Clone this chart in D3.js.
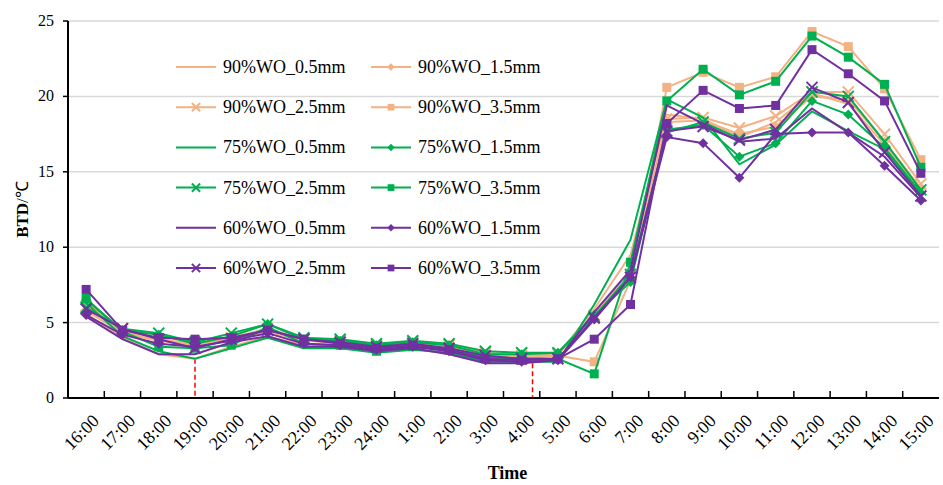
<!DOCTYPE html>
<html>
<head>
<meta charset="utf-8">
<script src="https://cdn.jsdelivr.net/npm/d3@7"></script>
<style>
  body { margin: 0; background: #fff; }
  text { font-family: "Liberation Serif", "Times New Roman", serif; }
</style>
</head>
<body>
<div id="chart"></div>
<script>
// categories along the x axis
const times = ["16:00","17:00","18:00","19:00","20:00","21:00","22:00","23:00","24:00","1:00","2:00","3:00",
               "4:00","5:00","6:00","7:00","8:00","9:00","10:00","11:00","12:00","13:00","14:00","15:00"];

// series values (BTD, °C)
const wo90_05 = [5.6,4.0,2.9,2.6,3.4,4.1,3.5,3.4,3.2,3.4,3.2,2.6,2.5,2.9,5.9,9.5,18.8,18.5,17.3,18.3,20.2,19.5,16.8,13.6];
const wo90_15 = [5.8,4.3,3.8,3.5,3.8,4.4,3.8,3.7,3.4,3.6,3.4,2.9,2.7,2.9,5.6,8.4,18.3,18.4,17.5,18.0,20.0,19.8,17.0,13.9];
const wo90_25 = [6.1,4.4,3.9,3.6,4.0,4.6,3.9,3.8,3.5,3.7,3.5,3.0,2.8,2.9,5.5,8.1,18.5,18.6,17.9,18.7,20.3,20.3,17.5,14.2];
const wo90_35 = [6.4,4.4,3.8,3.6,3.9,4.6,3.8,3.7,3.4,3.6,3.5,2.8,2.7,2.8,2.4,7.8,20.6,21.6,20.6,21.3,24.3,23.3,20.5,15.8];
const wo75_05 = [6.3,4.1,3.1,2.6,3.3,4.0,3.3,3.3,3.0,3.2,3.0,2.4,2.4,2.4,6.2,10.5,19.8,18.6,15.5,16.8,19.0,17.7,16.5,13.5];
const wo75_15 = [6.5,4.5,4.2,3.6,4.1,4.9,3.9,3.8,3.5,3.7,3.5,2.9,2.9,3.0,5.5,7.7,17.8,18.1,16.0,16.9,19.7,18.8,16.6,13.6];
const wo75_25 = [6.0,4.6,4.3,3.7,4.3,4.9,4.0,3.9,3.6,3.8,3.6,3.1,3.0,3.0,5.4,8.2,17.6,18.3,17.2,17.6,20.3,20.0,17.0,13.8];
const wo75_35 = [6.6,4.4,3.4,3.3,3.5,4.7,3.6,3.5,3.1,3.4,3.2,2.7,2.6,2.6,1.6,9.0,19.7,21.8,20.1,21.0,24.0,22.6,20.8,15.3];
const wo60_05 = [5.4,3.9,2.9,2.9,3.7,4.1,3.4,3.4,3.1,3.3,2.9,2.3,2.3,2.5,5.7,8.5,19.4,18.2,17.0,17.2,19.2,17.6,16.0,13.3];
const wo60_15 = [5.5,4.2,3.6,3.4,3.8,4.3,3.6,3.5,3.2,3.4,3.1,2.5,2.4,2.5,5.2,8.0,17.3,16.9,14.6,17.5,17.6,17.6,15.4,13.1];
const wo60_25 = [5.9,4.6,3.9,3.3,3.9,4.5,3.9,3.7,3.4,3.6,3.3,2.8,2.6,2.6,5.3,8.0,17.7,18.0,17.1,17.8,20.6,19.6,16.3,13.4];
const wo60_35 = [7.2,4.5,4.0,3.9,4.0,4.5,3.9,3.6,3.3,3.5,3.2,2.6,2.5,2.6,3.9,6.2,18.2,20.4,19.2,19.4,23.1,21.5,19.7,14.9];

const seriesNames = ["90%WO_0.5mm","90%WO_1.5mm","90%WO_2.5mm","90%WO_3.5mm",
                     "75%WO_0.5mm","75%WO_1.5mm","75%WO_2.5mm","75%WO_3.5mm",
                     "60%WO_0.5mm","60%WO_1.5mm","60%WO_2.5mm","60%WO_3.5mm"];
const seriesValues = [wo90_05, wo90_15, wo90_25, wo90_35, wo75_05, wo75_15, wo75_25, wo75_35,
                      wo60_05, wo60_15, wo60_25, wo60_35];
const yTicks = [0, 5, 10, 15, 20, 25];

// red dashed markers: position in category units (0 = 16:00 point) and top value
const markIdx = [3, 12.3];
const markVal = [2.6, 2.3];

const width = 943, height = 485;
const margin = ({top: 21, right: 4, bottom: 87, left: 68});

const colors = ["#F4B183", "#00B050", "#7030A0"];
const markerKinds = ["none", "diamond", "x", "square"];

const series = seriesNames.map((name, i) => ({
  name: name,
  color: colors[Math.floor(i / 4)],
  marker: markerKinds[i % 4],
  values: seriesValues[i]
}));

const svg = d3.create('svg')
  .attr('width', width)
  .attr('height', height);

const xScale = d3.scaleBand()
  .domain(times)
  .range([margin.left, width - margin.right])
  .padding(0);

const yScale = d3.scaleLinear()
  .domain([0, 25])
  .range([height - margin.bottom, margin.top]);

const xPos = d => xScale(d) + xScale.bandwidth() / 2;
const idxScale = d3.scaleLinear()
  .domain([0, times.length])
  .range([margin.left, width - margin.right]);

// gridlines
svg.append('g')
  .selectAll('line')
  .data(yTicks.filter(d => d > 0))
  .join('line')
  .attr('x1', margin.left)
  .attr('x2', width - margin.right)
  .attr('y1', d => yScale(d))
  .attr('y2', d => yScale(d))
  .attr('stroke', '#d9d9d9')
  .attr('stroke-width', 1.5);

// legend
const legend = svg.append('g');
series.forEach(function(s, i) {
  const col = i % 2, row = Math.floor(i / 2);
  const lx = 176 + col * 195, ly = 67 + row * 40.2;
  const g = legend.append('g').attr('transform', `translate(${lx}, ${ly})`);
  g.append('line')
    .attr('x1', 0).attr('x2', 40)
    .attr('stroke', s.color).attr('stroke-width', 2);
  drawMarker(g, s, 20, 0, 0.75);
  g.append('text')
    .attr('x', 47)
    .attr('y', 6)
    .attr('font-size', '18px')
    .attr('fill', '#000')
    .text(s.name);
});

function drawMarker(g, s, x, y, k) {
  if (s.marker === 'square') {
    g.append('rect')
      .attr('x', x - 4.5 * k).attr('y', y - 4.5 * k)
      .attr('width', 9 * k).attr('height', 9 * k)
      .attr('fill', s.color);
  } else if (s.marker === 'diamond') {
    const r = 5 * k;
    g.append('path')
      .attr('d', `M${x},${y - r}L${x + r},${y}L${x},${y + r}L${x - r},${y}Z`)
      .attr('fill', s.color);
  } else if (s.marker === 'x') {
    const r = 5.5 * k;
    g.append('path')
      .attr('d', `M${x - r},${y - r}L${x + r},${y + r}M${x - r},${y + r}L${x + r},${y - r}`)
      .attr('stroke', s.color)
      .attr('stroke-width', 2)
      .attr('fill', 'none');
  }
}

// red dashed markers
svg.append('g')
  .selectAll('line')
  .data(markIdx)
  .join('line')
  .attr('x1', d => idxScale(d + 0.5))
  .attr('x2', d => idxScale(d + 0.5))
  .attr('y1', (d, i) => yScale(markVal[i]))
  .attr('y2', yScale(0))
  .attr('stroke', '#ff0000')
  .attr('stroke-width', 1.5)
  .attr('stroke-dasharray', '5,3');

// lines and markers
const line = d3.line()
  .x((d, i) => xPos(times[i]))
  .y(d => yScale(d));

const plot = svg.append('g');
series.forEach(function(s) {
  const g = plot.append('g');
  g.append('path')
    .datum(s.values)
    .attr('d', line)
    .attr('fill', 'none')
    .attr('stroke', s.color)
    .attr('stroke-width', 2);
  s.values.forEach(function(v, i) {
    drawMarker(g, s, xPos(times[i]), yScale(v), 1);
  });
});

// x axis
const xAxis = svg.append('g')
  .attr('transform', `translate(0, ${height - margin.bottom})`);
xAxis.append('line')
  .attr('x1', margin.left).attr('x2', width - margin.right)
  .attr('stroke', '#000').attr('stroke-width', 2);
xAxis.selectAll('.tick')
  .data(times.slice(1))
  .join('line')
  .attr('x1', d => xScale(d)).attr('x2', d => xScale(d))
  .attr('y1', 0).attr('y2', -7)
  .attr('stroke', '#000').attr('stroke-width', 1.5);
xAxis.selectAll('text.lbl')
  .data(times)
  .join('text')
  .attr('class', 'lbl')
  .attr('transform', d => `translate(${xPos(d) + 14}, 24) rotate(-45)`)
  .attr('text-anchor', 'end')
  .attr('font-size', '18px')
  .attr('fill', '#000')
  .text(d => d);
svg.append('text')
  .attr('x', (margin.left + width - margin.right) / 2 + 4)
  .attr('y', 479)
  .attr('text-anchor', 'middle')
  .attr('font-size', '18px')
  .attr('font-weight', 'bold')
  .text('Time');

// y axis
const yAxis = svg.append('g');
yAxis.append('line')
  .attr('x1', margin.left).attr('x2', margin.left)
  .attr('y1', yScale(25)).attr('y2', yScale(0))
  .attr('stroke', '#000').attr('stroke-width', 2);
yAxis.selectAll('line.tk')
  .data(yTicks)
  .join('line')
  .attr('class', 'tk')
  .attr('x1', margin.left - 5).attr('x2', margin.left)
  .attr('y1', d => yScale(d)).attr('y2', d => yScale(d))
  .attr('stroke', '#000').attr('stroke-width', 1.5);
yAxis.selectAll('text')
  .data(yTicks)
  .join('text')
  .attr('x', 54)
  .attr('y', d => yScale(d) + 5)
  .attr('text-anchor', 'end')
  .attr('font-size', '16px')
  .attr('fill', '#000')
  .text(d => d);
const yTitle = svg.append('text')
  .attr('transform', `translate(28, ${yScale(12.5)}) rotate(-90)`)
  .attr('text-anchor', 'middle')
  .attr('font-size', '17px');
yTitle.append('tspan').attr('font-weight', 'bold').text('BTD');
yTitle.append('tspan').text('/℃');

document.getElementById("chart").appendChild(svg.node());
</script>
</body>
</html>
